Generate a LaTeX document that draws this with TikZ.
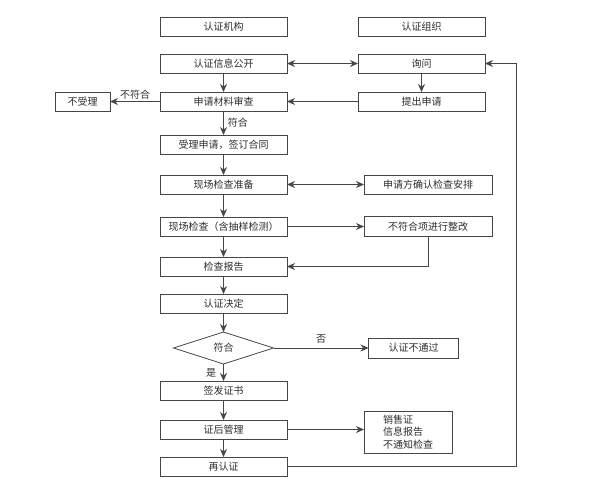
\documentclass[tikz,border=0pt]{standalone}
\usepackage{fontspec}
\setmainfont{Noto Sans CJK SC}
\usetikzlibrary{arrows.meta,shapes.geometric,positioning}
\definecolor{lineColor}{RGB}{70,70,70}
\definecolor{textColor}{RGB}{45,45,45}
\tikzset{stage/.style={draw=lineColor, line width=0.8pt, text=textColor, align=center, minimum width=127pt, minimum height=19pt, inner sep=0pt, outer sep=0pt, font=\fontsize{10}{12.5}\selectfont}}
\tikzset{decision/.style={stage, diamond, aspect=3.1, minimum width=100pt, minimum height=32pt}}
\tikzset{tag/.style={text=textColor, inner sep=2pt, font=\fontsize{10}{12}\selectfont}}
\tikzstyle{arrow} = [-{Stealth[length=8pt,width=7pt]}, draw=lineColor, line width=0.8pt]
\tikzstyle{twoway} = [{Stealth[length=8pt,width=7pt]}-{Stealth[length=8pt,width=7pt]}, draw=lineColor, line width=0.8pt]

\begin{document}
\begin{tikzpicture}
	\useasboundingbox (0,0) rectangle (597pt,-501pt);
	% Nodes
		\node (org1) [stage] at (223.5pt,-26.5pt) {认证机构};
		\node (info) [stage, below=18pt of org1] {认证信息公开};
		\node (review) [stage, below=19pt of info] {申请材料审查};
		\node (accept) [stage, below=24pt of review] {受理申请，签订合同};
		\node (prep) [stage, below=21pt of accept] {现场检查准备};
		\node (inspect) [stage, below=23pt of prep] {现场检查（含抽样检测）};
		\node (report) [stage, below=21pt of inspect] {检查报告};
		\node (decide) [stage, below=18pt of report] {认证决定};
		\node (check) [decision, below=19pt of decide] {符合};
		\node (issue) [stage, below=17pt of check] {签发证书};
		\node (manage) [stage, below=20pt of issue] {证后管理};
		\node (renew) [stage, below=18pt of manage] {再认证};

		\node (org2) [stage, right=71pt of org1] {认证组织};
		\node (ask) [stage, right=71pt of info] {询问};
		\node (apply) [stage, right=71pt of review] {提出申请};
		\node (reject) [stage, left=50pt of review, minimum width=55pt] {不受理};
		\node (confirm) [stage, right=77pt of prep, minimum width=128pt] {申请方确认检查安排};
		\node (fix) [stage, right=77pt of inspect, minimum width=128pt, minimum height=20pt] {不符合项进行整改};
		\node (fail) [stage, right=95pt of check, minimum width=90pt, minimum height=20pt] {认证不通过};
		\node (post) [stage, right=77pt of manage, yshift=-2.5pt, minimum width=88pt, minimum height=42pt, align=left] {销售证\\信息报告\\不通知检查};
		\coordinate (loopx) at (516pt,0);

		% Connectors
		\draw [twoway] (info) -- (ask);
		\draw [arrow] (ask) -- (apply);
		\draw [arrow] (apply) -- (review);
		\draw [arrow] (info) -- (review);
		\draw [arrow] (review) -- node[tag, above]{不符合} (reject);
		\draw [arrow] (review) -- node[tag, right, xshift=2pt]{符合} (accept);
		\draw [arrow] (accept) -- (prep);
		\draw [twoway] (prep) -- (confirm);
		\draw [arrow] (prep) -- (inspect);
		\draw [arrow] (inspect) -- (fix);
		\draw [arrow] (inspect) -- (report);
		\draw [arrow] (fix.south) |- (report.east);
		\draw [arrow] (report) -- (decide);
		\draw [arrow] (decide) -- (check);
		\draw [arrow] (check) -- node[tag, above, yshift=2pt]{否} (fail);
		\draw [arrow] (check) -- node[tag, left, xshift=-5pt]{是} (issue);
		\draw [arrow] (issue) -- (manage);
		\draw [arrow] (manage.east) -- (manage.east -| post.west);
		\draw [arrow] (manage) -- (renew);
		\draw [arrow] (renew.east) -- (renew.east -| loopx) |- (ask.east);
\end{tikzpicture}
\end{document}
